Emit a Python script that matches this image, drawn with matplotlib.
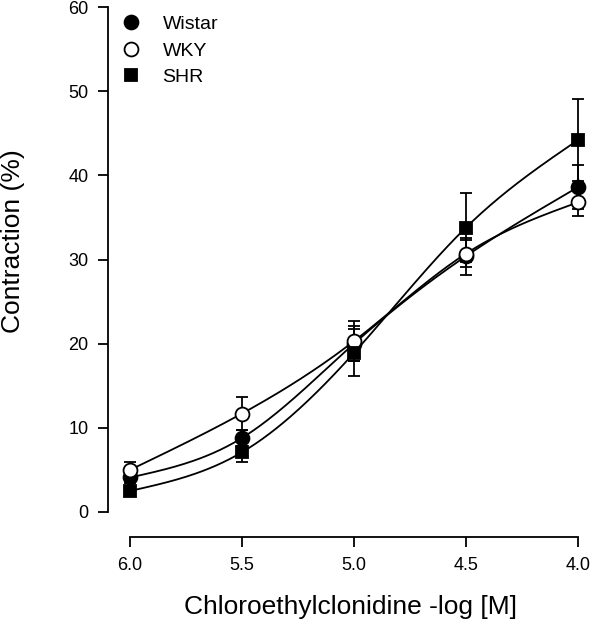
import numpy as np
import matplotlib
matplotlib.use("Agg")
import matplotlib.pyplot as plt

plt.rcParams['font.family'] = ['Liberation Sans', 'DejaVu Sans']

conc = [6.0, 5.5, 5.0, 4.5, 4.0]
wistar = [4.1, 8.8, 20.0, 30.4, 38.6]
wistar_err = [0.6, 0.9, 2.1, 2.2, 2.6]
wky = [5.0, 11.7, 20.3, 30.7, 36.8]
wky_err = [0.9, 2.0, 2.4, 1.6, 1.6]
shr = [2.5, 7.1, 18.9, 33.8, 44.2]
shr_err = [0.5, 1.2, 2.8, 4.1, 4.9]
xticks = [6.0, 5.5, 5.0, 4.5, 4.0]
xticklabels = ["6.0", "5.5", "5.0", "4.5", "4.0"]
yticks = [0, 10, 20, 30, 40, 50, 60]


def natural_spline(x, y, xs):
    x = np.asarray(x, float); y = np.asarray(y, float)
    order = np.argsort(x)
    x = x[order]; y = y[order]
    n = len(x)
    h = np.diff(x)
    A = np.zeros((n, n)); b = np.zeros(n)
    A[0, 0] = 1; A[-1, -1] = 1
    for i in range(1, n - 1):
        A[i, i - 1] = h[i - 1]
        A[i, i] = 2 * (h[i - 1] + h[i])
        A[i, i + 1] = h[i]
        b[i] = 3 * ((y[i + 1] - y[i]) / h[i] - (y[i] - y[i - 1]) / h[i - 1])
    c = np.linalg.solve(A, b)
    out = np.empty_like(xs)
    for k, xv in enumerate(xs):
        i = min(max(np.searchsorted(x, xv) - 1, 0), n - 2)
        bb = (y[i + 1] - y[i]) / h[i] - h[i] * (2 * c[i] + c[i + 1]) / 3
        d = (c[i + 1] - c[i]) / (3 * h[i])
        t = xv - x[i]
        out[k] = y[i] + bb * t + c[i] * t ** 2 + d * t ** 3
    return out


W, H = 591, 640
fig = plt.figure(figsize=(W / 100, H / 100), dpi=100)
left = 108 / W
bottom = 1 - 512 / H
top = 1 - 7 / H
ax = fig.add_axes([left, bottom, 1 - left, top - bottom])

xs = np.linspace(4.0, 6.0, 200)
lw = 1.3
series = [
    ("Wistar", wistar, wistar_err, dict(marker='o', mfc='black', mec='black', ms=10)),
    ("WKY", wky, wky_err, dict(marker='o', mfc='white', mec='black', ms=10)),
    ("SHR", shr, shr_err, dict(marker='s', mfc='black', mec='black', ms=8.5)),
]
for name, vals, errs, st in series:
    ax.plot(xs, natural_spline(conc, vals, xs), color='black', lw=lw, zorder=2)
for name, vals, errs, st in series:
    ax.errorbar(conc, vals, yerr=errs, fmt='none', ecolor='black', elinewidth=1.3,
                capsize=4.3, capthick=1.3, zorder=3)
handles = []
for name, vals, errs, st in series:
    h, = ax.plot(conc, vals, linestyle='none', mew=1.3, zorder=4, label=name, **st)
    handles.append(h)

ax.set_xlim(6.0 + 22 / 224, 4.0 - 13 / 224)
ax.set_ylim(0, 60)
ax.spines['top'].set_visible(False)
ax.spines['right'].set_visible(False)
ax.spines['bottom'].set_position(('outward', 18))
ax.spines['bottom'].set_bounds(6.0, 4.0)
ax.spines['left'].set_bounds(0, 60)
for s in ('left', 'bottom'):
    ax.spines[s].set_linewidth(1.3)
ax.set_xticks(xticks)
ax.set_xticklabels(xticklabels)
ax.set_yticks(yticks)
ax.tick_params(axis='both', direction='out', length=7, width=1.3, labelsize=13)
ax.tick_params(axis='x', pad=7.5)
ax.tick_params(axis='y', pad=7)
ax.set_xlabel("Chloroethylclonidine -log [M]", fontsize=19)
ax.set_ylabel("Contraction (%)", fontsize=19)
ax.xaxis.set_label_coords((350 - 108) / 483, (512 - 595) / 505)
ax.yaxis.set_label_coords((25 - 108) / 483, (512 - 241) / 505)

leg = ax.legend(handles=handles, loc='upper left', bbox_to_anchor=(0.0, 1.01),
                frameon=False, fontsize=14, handlelength=1.0, handletextpad=1.1,
                labelspacing=0.45, borderaxespad=0.3, numpoints=1)

fig.savefig("out.png", dpi=100)
